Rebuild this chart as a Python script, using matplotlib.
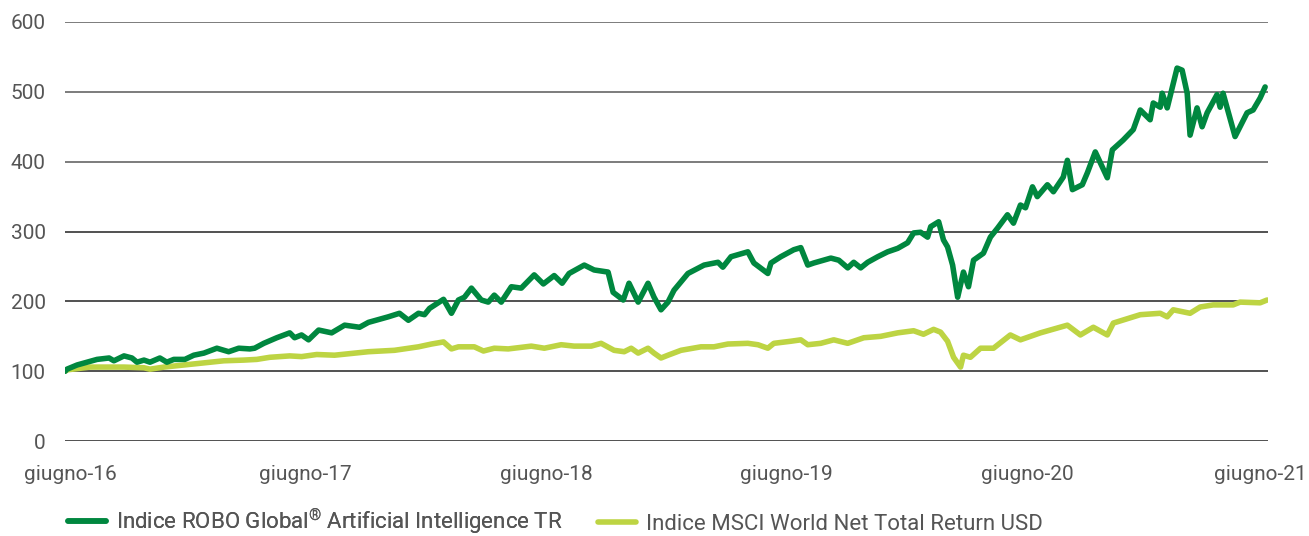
import numpy as np
import matplotlib
matplotlib.use("Agg")
import matplotlib.pyplot as plt
import matplotlib.transforms as mtransforms

# tempo in anni da giugno 2016, valori indicizzati (base 100)
anni_robo = [0.000, 0.008, 0.050, 0.091, 0.133, 0.183, 0.203, 0.245, 0.278, 0.299,
             0.328, 0.353, 0.394, 0.423, 0.452, 0.498, 0.535, 0.577, 0.631, 0.680,
             0.722, 0.768, 0.788, 0.826, 0.880, 0.934, 0.954, 0.983, 1.012, 1.054,
             1.108, 1.162, 1.224, 1.261, 1.344, 1.390, 1.427, 1.469, 1.494, 1.515,
             1.573, 1.606, 1.635, 1.660, 1.689, 1.730, 1.759, 1.784, 1.813, 1.855,
             1.896, 1.950, 1.988, 2.033, 2.066, 2.095, 2.158, 2.199, 2.257, 2.278,
             2.320, 2.344, 2.382, 2.423, 2.448, 2.477, 2.506, 2.531, 2.589, 2.656,
             2.714, 2.734, 2.768, 2.838, 2.863, 2.921, 2.934, 2.975, 3.029, 3.058,
             3.087, 3.112, 3.183, 3.216, 3.253, 3.278, 3.307, 3.336, 3.378, 3.419,
             3.461, 3.502, 3.527, 3.556, 3.585, 3.598, 3.631, 3.651, 3.668, 3.689,
             3.710, 3.734, 3.755, 3.776, 3.817, 3.846, 3.876, 3.917, 3.942, 3.971,
             3.992, 4.021, 4.041, 4.083, 4.108, 4.149, 4.166, 4.187, 4.228, 4.249,
             4.282, 4.332, 4.353, 4.398, 4.440, 4.469, 4.510, 4.523, 4.552, 4.560,
             4.581, 4.622, 4.643, 4.664, 4.676, 4.705, 4.726, 4.747, 4.788, 4.801,
             4.813, 4.863, 4.913, 4.938, 4.967, 4.988]
robo = [100, 103, 109, 113, 117, 119, 115, 122, 119, 113,
        116, 113, 119, 113, 117, 117, 123, 126, 133, 128,
        133, 132, 133, 140, 148, 155, 148, 152, 145, 159,
        155, 166, 163, 170, 178, 183, 173, 183, 181, 190,
        203, 183, 202, 206, 219, 202, 199, 209, 199, 221,
        219, 238, 225, 237, 226, 240, 252, 245, 242, 213,
        202, 226, 199, 226, 206, 188, 199, 216, 240, 252,
        256, 249, 264, 271, 255, 240, 255, 264, 274, 277,
        252, 255, 262, 259, 248, 256, 248, 256, 264, 271,
        276, 284, 298, 299, 292, 307, 314, 288, 278, 252,
        206, 242, 221, 259, 269, 292, 305, 324, 312, 338,
        334, 364, 350, 367, 357, 378, 402, 360, 367, 384,
        414, 377, 417, 431, 446, 474, 460, 484, 478, 498,
        477, 534, 531, 498, 438, 477, 450, 470, 496, 478,
        498, 436, 470, 474, 491, 507]

anni_msci = [0.000, 0.008, 0.104, 0.174, 0.245, 0.328, 0.353, 0.411, 0.494, 0.577,
             0.660, 0.743, 0.797, 0.851, 0.934, 0.983, 1.046, 1.120, 1.261, 1.369,
             1.469, 1.523, 1.573, 1.606, 1.635, 1.660, 1.701, 1.739, 1.784, 1.842,
             1.938, 1.992, 2.062, 2.116, 2.187, 2.228, 2.282, 2.324, 2.353, 2.382,
             2.423, 2.448, 2.477, 2.506, 2.560, 2.643, 2.697, 2.755, 2.838, 2.880,
             2.921, 2.946, 3.017, 3.058, 3.087, 3.141, 3.195, 3.253, 3.320, 3.390,
             3.461, 3.527, 3.568, 3.610, 3.639, 3.668, 3.693, 3.722, 3.734, 3.763,
             3.805, 3.859, 3.929, 3.971, 4.054, 4.166, 4.220, 4.274, 4.332, 4.357,
             4.469, 4.552, 4.581, 4.606, 4.676, 4.718, 4.772, 4.855, 4.884, 4.967,
             4.996]
msci = [100, 102, 106, 106, 106, 105, 103, 106, 109, 112,
        115, 116, 117, 120, 122, 121, 124, 123, 128, 130,
        135, 139, 142, 132, 135, 135, 135, 129, 133, 132,
        136, 133, 138, 136, 136, 140, 130, 128, 133, 126,
        133, 126, 119, 123, 130, 135, 135, 139, 140, 138,
        133, 140, 143, 145, 138, 140, 145, 140, 148, 150,
        155, 158, 153, 160, 156, 143, 120, 106, 123, 120,
        133, 133, 152, 145, 155, 166, 152, 163, 152, 169,
        181, 183, 178, 188, 183, 192, 195, 195, 199, 198,
        202]

etichette_x = ["giugno-16", "giugno-17", "giugno-18", "giugno-19", "giugno-20", "giugno-21"]
etichette_y = [0, 100, 200, 300, 400, 500, 600]

nome_robo = "Indice ROBO Global$^{®}$ Artificial Intelligence TR"
nome_msci = "Indice MSCI World Net Total Return USD"

verde_scuro = "#00873F"
verde_chiaro = "#BDD443"
grigio = "#555555"

plt.rcParams["font.family"] = ["Roboto", "DejaVu Sans"]
plt.rcParams["mathtext.fontset"] = "custom"
plt.rcParams["mathtext.rm"] = "Roboto"
plt.rcParams["mathtext.it"] = "Roboto"
plt.rcParams["mathtext.default"] = "rm"

fig = plt.figure(figsize=(13.09, 5.36), dpi=100)
ax = fig.add_axes([0.0497, 0.177, 0.919, 0.782])

for v in etichette_y:
    ax.axhline(v, color="#333333" if v < 400 else "#666666", lw=1.2, zorder=1)

l_msci, = ax.plot(anni_msci, msci, color=verde_chiaro, lw=4.0, solid_joinstyle="round",
                  solid_capstyle="round", zorder=3)
l_robo, = ax.plot(anni_robo, robo, color=verde_scuro, lw=4.0, solid_joinstyle="round",
                  solid_capstyle="round", zorder=4)

ax.set_xlim(0, 5)
ax.set_ylim(0, 600)
ax.set_xticks(range(len(etichette_x)))
ax.set_xticklabels(etichette_x)
ax.set_yticks(etichette_y)
ax.tick_params(axis="both", length=0, labelsize=15, labelcolor=grigio)
ax.tick_params(axis="y", pad=14)
ax.tick_params(axis="x", pad=17)
for s in ax.spines.values():
    s.set_visible(False)

# prima e ultima etichetta spostate come nell'originale
lbl = ax.get_xticklabels()
lbl[0].set_transform(lbl[0].get_transform() + mtransforms.ScaledTranslation(5 / 100, 0, fig.dpi_scale_trans))
lbl[-1].set_transform(lbl[-1].get_transform() + mtransforms.ScaledTranslation(-8 / 100, 0, fig.dpi_scale_trans))

leg_kw = dict(loc="center left", frameon=False, fontsize=16, handlelength=1.7,
              handletextpad=0.45, borderpad=0, borderaxespad=0, labelcolor=grigio)
leg1 = fig.legend([l_robo], [nome_robo], bbox_to_anchor=(68 / 1309, 0.028), **leg_kw)
fig.add_artist(leg1)
fig.legend([l_msci], [nome_msci], bbox_to_anchor=(598 / 1309, 0.021), **leg_kw)

fig.savefig("out.png", dpi=100)
